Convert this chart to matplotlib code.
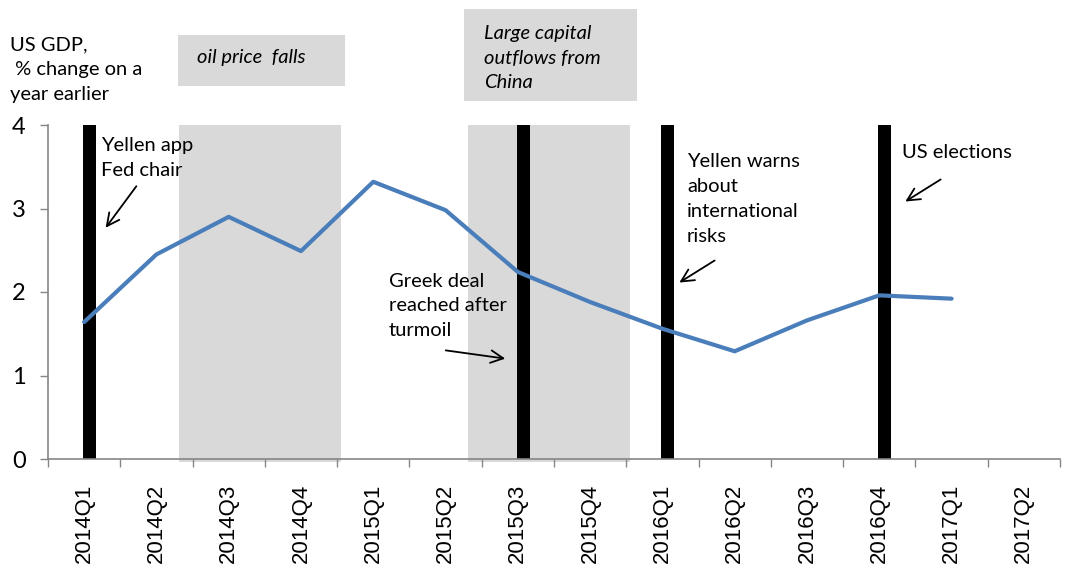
import numpy as np
import matplotlib.pyplot as plt
from matplotlib.patches import Rectangle

quarters = ['2014Q1', '2014Q2', '2014Q3', '2014Q4', '2015Q1', '2015Q2', '2015Q3',
            '2015Q4', '2016Q1', '2016Q2', '2016Q3', '2016Q4', '2017Q1', '2017Q2']
gdp = [1.64, 2.45, 2.90, 2.49, 3.32, 2.98, 2.24, 1.88, 1.56, 1.29, 1.66, 1.96, 1.92]
events = ['2014Q1', '2015Q3', '2016Q1', '2016Q4']
shaded = [('2014Q3', '2014Q4'), ('2015Q3', '2015Q4')]

W, H = 1069, 568
fig = plt.figure(figsize=(W / 100, H / 100), dpi=100)
ax = fig.add_axes([48 / W, 1 - 459 / H, 1012 / W, 334 / H])

def px(x, y):
    # pixel coords (top-left origin) -> figure fraction
    return x / W, 1 - y / H

txt_font = ['Lato', 'DejaVu Sans']
fs = 14.5
ls = 1.55

pos = {q: i for i, q in enumerate(quarters)}

# shaded periods
for a, b in shaded:
    ax.axvspan(pos[a] - 0.687, pos[b] + 0.555, ymin=-0.008, ymax=1, color='#d9d9d9',
               lw=0, zorder=0, clip_on=False)

# event bars
ev_x = np.array([pos[e] for e in events])
ax.bar(ev_x + 0.075, 4, width=0.18, color='black', zorder=2)

ax.plot(np.arange(len(gdp)), gdp, color='#4a7ebb', lw=3, zorder=3,
        solid_capstyle='round', solid_joinstyle='round')

ax.set_xlim(-0.5, len(quarters) - 0.5)
ax.set_ylim(0, 4)
ax.set_yticks([0, 1, 2, 3, 4])
ax.set_yticklabels(['0', '1', '2', '3', '4'], fontsize=17, family=txt_font)
ax.set_xticks(np.arange(len(quarters)))
ax.set_xticklabels(quarters, rotation=90, fontsize=16, family='Liberation Sans')
ax.set_xticks(np.arange(len(quarters) + 1) - 0.5, minor=True)
ax.tick_params(axis='x', which='major', length=0, pad=18)
ax.tick_params(axis='x', which='minor', length=6, color='#868686', width=1)
ax.tick_params(axis='y', length=6, color='#868686', width=1, pad=10)
for s in ['top', 'right']:
    ax.spines[s].set_visible(False)
for s in ['left', 'bottom']:
    ax.spines[s].set_color('#868686')
    ax.spines[s].set_linewidth(1.2)

# y axis title
fig.text(*px(10, 70), 'US GDP,\n % change on a\nyear earlier', ha='left', va='center',
         fontsize=fs, family=txt_font, linespacing=ls)

# gray label boxes
for (x0, y0, x1, y1) in [(178, 35, 345, 86), (464, 9, 637, 101)]:
    fig.patches.append(Rectangle(px(x0, y1), (x1 - x0) / W, (y1 - y0) / H,
                                 transform=fig.transFigure, color='#d9d9d9', lw=0))
fig.text(*px(197, 58), 'oil price  falls', ha='left', va='center', fontsize=fs,
         family=txt_font, style='italic')
fig.text(*px(484, 58), 'Large capital\noutflows from\nChina', ha='left', va='center',
         fontsize=fs, family=txt_font, style='italic', linespacing=ls)

notes = [
    ('Yellen app\nFed chair', (101, 158), (138, 184), (104, 230)),
    ('Greek deal\nreached after\nturmoil', (389, 306), (443, 350), (508, 359)),
    ('Yellen warns\nabout\ninternational\nrisks', (687, 199), (717, 259), (677, 284)),
    ('US elections', (902, 152), (943, 178), (903, 203)),
]
for label, tp, a0, a1 in notes:
    fig.text(*px(*tp), label, ha='left', va='center', fontsize=fs, family=txt_font,
             linespacing=ls)
    ax.annotate('', xy=px(*a1), xycoords='figure fraction', xytext=px(*a0),
                textcoords='figure fraction',
                arrowprops=dict(arrowstyle='->,head_length=0.9,head_width=0.45',
                                color='black', lw=1.3))

fig.savefig('out.png', dpi=100)
